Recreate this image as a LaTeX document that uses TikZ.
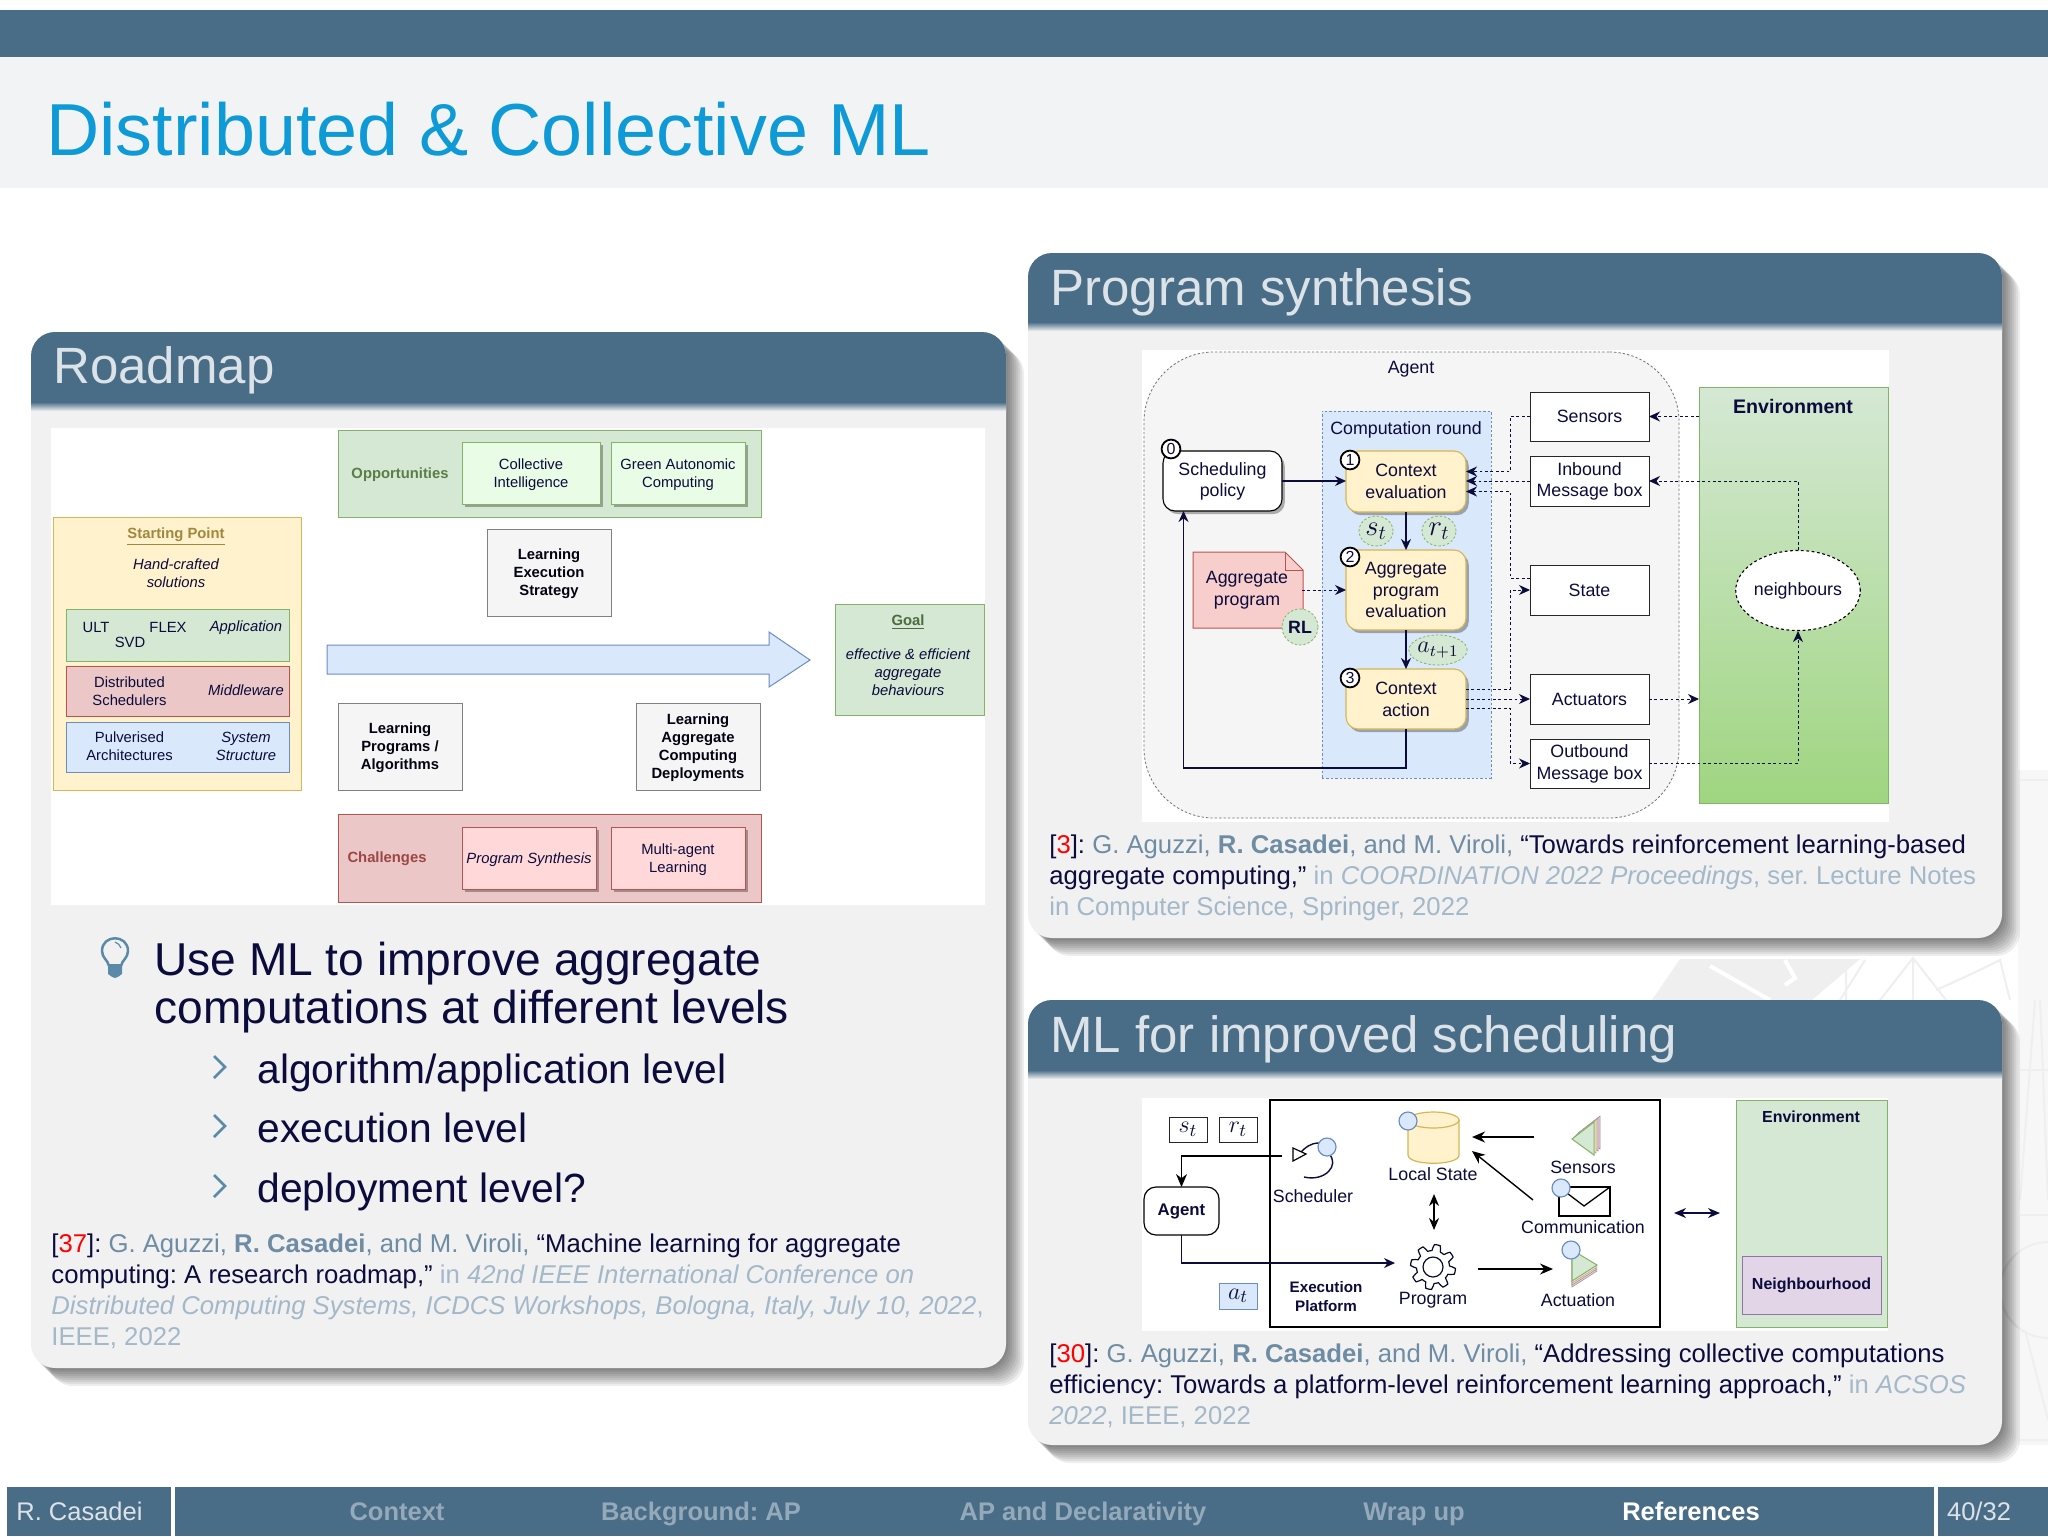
\documentclass[tikz,border=0pt]{standalone}
\usepackage{fontspec}
\setmainfont{Liberation Sans}
\usetikzlibrary{arrows.meta,shadows,shapes.geometric}
\AtBeginDocument{\frenchspacing}
\definecolor{bar}{HTML}{4A6D87}
\definecolor{band}{HTML}{F1F3F5}
\definecolor{cardbg}{HTML}{F1F1F2}
\definecolor{titleblue}{HTML}{0E9AD6}
\definecolor{navy}{HTML}{0B0B3C}
\definecolor{headtxt}{HTML}{DCE3E8}
\definecolor{auth}{HTML}{6E8CA3}
\definecolor{pub}{HTML}{A3B8C8}
\definecolor{foot}{HTML}{94A9B9}
\definecolor{bull}{HTML}{5B8AA8}
\definecolor{gfill}{HTML}{D5E8D4}
\definecolor{gbot}{HTML}{9FD580}
\definecolor{gline}{HTML}{82B366}
\definecolor{glight}{HTML}{E8FCE6}
\definecolor{rfill}{HTML}{EBC7C7}
\definecolor{rline}{HTML}{B85450}
\definecolor{rlight}{HTML}{FFD9D9}
\definecolor{pfill}{HTML}{F8CECC}
\definecolor{bfill}{HTML}{DAE8FC}
\definecolor{bline}{HTML}{6C8EBF}
\definecolor{yfill}{HTML}{FFF2CC}
\definecolor{yline}{HTML}{D6B656}
\definecolor{lgfill}{HTML}{F5F5F5}
\definecolor{lgline}{HTML}{808080}
\definecolor{vfill}{HTML}{E1D5E7}
\definecolor{vline}{HTML}{9673A6}
\definecolor{wm}{HTML}{EFEFEF}
\newcommand{\bx}[7]{%
  \pgfmathsetmacro\bxw{(#5-#3)*0.5}\pgfmathsetmacro\bxh{(#6-#4)*0.5}%
  \pgfmathsetmacro\bxx{(#3+#5)/2}\pgfmathsetmacro\bxy{(#4+#6)/2}%
  \node[#2,minimum width=\bxw pt,minimum height=\bxh pt] (#1) at (\bxx,\bxy) {#7};}
\newcommand{\fsz}[2]{\fontsize{#1}{#2}\selectfont}
\newcommand{\ts}{\rule{0pt}{6.9pt}}
\newcommand{\card}[7]{% x0 y0 x1 y1 headbottom titlerise title
  \foreach \s in {2,4,...,18}{\fill[black,opacity=.065,rounded corners=12pt]
    ({#1+\s},{#2+\s}) rectangle ({#3+\s},{#4+\s});}
  \fill[cardbg,rounded corners=12pt] (#1,#2) rectangle (#3,#4);
  \fill[bar,rounded corners=12pt] (#1,#5) -- (#1,#2) -- (#3,#2) -- (#3,#5);
  \shade[top color=bar,bottom color=cardbg] (#1,#5) rectangle (#3,{#5+9});
  \node[anchor=base west,text=headtxt,inner sep=0pt,font=\fsz{25.5}{28}] (#7) at ({#1+22},{#5-#6}) {\cardtitle};}
\tikzset{
  txt/.style={inner sep=0pt,outer sep=0pt,align=center,text=navy},
  rm/.style={txt,font=\fsz{7.4}{9}},
  rmb/.style={txt,font=\fsz{7.4}{9}\bfseries},
  rmi/.style={txt,font=\fsz{7.4}{9}\itshape},
  box/.style={txt,draw,line width=.5pt},
  soft/.style={drop shadow={shadow xshift=1.4pt,shadow yshift=-1.6pt,fill=black,opacity=.3}},
  gbox/.style={box,fill=gfill,draw=gline},
  rbox/.style={box,fill=rfill,draw=rline},
  bbox/.style={box,fill=bfill,draw=bline},
  lbox/.style={box,fill=lgfill,draw=lgline,font=\fsz{7.4}{9}\bfseries,text=black!70!navy},
  gsub/.style={box,fill=glight,draw=gline,soft,font=\fsz{7.4}{9}},
  rsub/.style={box,fill=rlight,draw=rline,soft,font=\fsz{7.4}{9}},
  sy/.style={txt,font=\fsz{8.9}{10.9}},
  sybox/.style={box,font=\fsz{8.9}{10.9},draw=black!85,line width=.5pt,fill=white},
  roundb/.style={box,rounded corners=6pt,font=\fsz{8.9}{10.9},soft,line width=.55pt},
  badge/.style={circle,draw=black,fill=white,line width=.9pt,inner sep=0pt,minimum size=9.4pt,text=navy,font=\fsz{8}{8}},
  gell/.style={ellipse,fill=gfill,draw=gline,dash pattern=on 1.2pt off 1pt,line width=.4pt,inner sep=0pt,text=navy},
  solidc/.style={navy,line width=.6pt,-{Stealth[length=5.5pt,width=5pt]}},
  plainc/.style={black,line width=.7pt,-{Stealth[length=6.5pt,width=5.5pt]}},
  dotc/.style={navy,line width=.5pt,dash pattern=on 1.4pt off 1.3pt,-{Stealth[length=5.5pt,width=5pt]}},
  ft/.style={anchor=base,inner sep=0pt,font=\fsz{12.75}{14}\bfseries,text=foot},
  cite/.style={anchor=north west,inner sep=0pt,align=left,text=navy,font=\fsz{12.85}{15.55}},
  knob/.style={fill=bfill,draw=bline,line width=.6pt},
  iconl/.style={txt,font=\fsz{8.9}{10}},
}
\newcommand{\au}[1]{\textcolor{auth}{#1}}
\newcommand{\pb}[1]{\textcolor{pub}{#1}}
\begin{document}
\begin{tikzpicture}[x=0.5pt,y=-0.5pt]
\useasboundingbox (0,0) rectangle (2048,1536);
\fill[white] (0,0) rectangle (2048,1536);
% watermark
\begin{scope}[wm,line width=1pt]
\fill[wm,opacity=.45] (2018,770) rectangle (2048,1445);
\fill[wm] (1652,1000) -- (1680,959) -- (1860,959) -- (1812,1000) -- cycle;
\draw[white,line width=2pt] (1710,966) -- (1770,1000) (1785,960) -- (1795,978) -- (1785,985);
\draw (1880,1000) -- (1913,958) -- (1946,1000) (1913,958) -- (1913,1000);
\draw (1840,1000) -- (1865,960) (1846,960) -- (1846,1000);
\draw (1936,990) .. controls (1970,975) and (1990,965) .. (2000,960) -- (2010,1000);
\draw (2020,780) -- (2048,780) (2020,1070) -- (2048,1070) (2020,1215) -- (2048,1215);
\draw (2035,1000) -- (2020,1200) (2040,1000) -- (2048,1200);
\draw (2048,1290) circle[radius=24pt];
\draw (2020,1440) -- (2048,1440) (2025,1330) -- (2048,1420);
\end{scope}
% top
\fill[bar] (0,10) rectangle (2048,57);
\fill[band] (0,57) rectangle (2048,188);
\node[anchor=base west,inner sep=0pt,text=titleblue,font=\fsz{36.85}{40}] (maintitle) at (46,155.5) {Distributed \& Collective ML};
% cards
\def\cardtitle{Roadmap}\card{31}{332}{1006}{1368}{402}{19}{roadt}
\def\cardtitle{Program synthesis}\card{1028}{253}{2002}{938}{322}{17}{progt}
\def\cardtitle{ML for improved scheduling}\card{1028}{1000}{2002}{1445}{1070}{18}{mlt}
% ---------- roadmap figure
\fill[white] (51,428) rectangle (985,905);
\bx{opp}{gbox}{338}{430}{761}{517}{}
\node[rmb,text=gline!70!black] (opplab) at (400,474.5) {Opportunities};
\bx{ci}{gsub}{462}{442}{600}{504}{\ts Collective\\Intelligence}
\bx{gac}{gsub}{611}{442}{745}{504}{\ts Green Autonomic\\Computing}
\bx{les}{lbox}{487}{529}{611}{616}{\ts Learning\\Execution\\Strategy}
\bx{start}{box,fill=yfill,draw=yline}{53}{517}{301}{790}{}
\node[rmb,text=yline!75!black] (splab) at (176,536.5) {\underline{Starting Point}};
\node[rmi] (hand) at (176,573.5) {Hand-crafted\\solutions};
\bx{lapp}{gbox}{66}{609}{289}{661}{}
\node[rm] (ult) at (96,627.5) {ULT};
\node[rm] (flex) at (168,627.5) {FLEX};
\node[rm] (svd) at (130,642) {SVD};
\node[rmi] (app) at (246,628) {Application};
\bx{lmid}{rbox}{66}{666}{289}{716}{}
\node[rm] (sched) at (129.5,691) {Distributed\\Schedulers};
\node[rmi] (mid) at (246,690) {Middleware};
\bx{lsys}{bbox}{66}{722}{289}{772}{}
\node[rm] (pulv) at (129.5,746.5) {Pulverised\\Architectures};
\node[rmi] (sys) at (246,746.5) {System\\Structure};
\fill[bfill,draw=bline,line width=.5pt] (327,645) -- (769,645) -- (769,632) -- (810,660) -- (769,687) -- (769,674) -- (327,674) -- cycle;
\bx{goal}{gbox}{835}{604}{984}{715}{}
\node[rmb,text=gline!60!black] (goallab) at (908,622.5) {\underline{Goal}};
\node[rmi] (goaltxt) at (908,672) {effective \& efficient\\aggregate\\behaviours};
\bx{lpa}{lbox}{338}{703}{462}{790}{\ts Learning\\Programs /\\Algorithms}
\bx{lacd}{lbox}{636}{703}{760}{790}{\ts Learning\\Aggregate\\Computing\\Deployments}
\bx{chal}{rbox}{338}{814}{761}{902}{}
\node[rmb,text=rline!85!black] (challab) at (387,859) {Challenges};
\bx{ps}{rsub}{462}{827}{596}{889}{\itshape\ts Program Synthesis}
\bx{mal}{rsub}{611}{827}{745}{889}{\ts Multi-agent\\Learning}
% bullets
\draw[bull,line width=1.25pt,line join=round] (109,966) .. controls (108,960) and (102,958) .. (102,951) .. controls (102,934) and (128,934) .. (128,951) .. controls (128,958) and (122,960) .. (121,966);
\fill[bull] (108,964) -- (122,964) -- (122,974) .. controls (120,975) and (119,977) .. (115,978) .. controls (111,977) and (110,975) .. (108,974) -- cycle;
\draw[bull,line width=.6pt] (115,942) .. controls (118,943) and (120,945) .. (121,948);
\node[anchor=north west,inner sep=0pt,align=left,text=navy,font=\fsz{23.05}{24}] (b1) at (154,942) {Use ML to improve aggregate\\computations at different levels};
\foreach \yy/\nn/\ttxt in {1083/s1/algorithm\slash application level,1142/s2/execution level,1202/s3/deployment level?}{
  \node[anchor=base west,inner sep=0pt,text=navy,font=\fsz{20.4}{22}] (\nn) at (257,\yy) {\ttxt};
  \draw[bull,line width=1.3pt] (214,{\yy-27}) -- (225,{\yy-16}) -- (214,{\yy-5});
}
\node[cite] (c1) at (51,1233) {[\textcolor{red}{37}]: \au{G. Aguzzi, \textbf{R. Casadei}, and M. Viroli,} “Machine learning for aggregate\\computing: A research roadmap,” \pb{in \textit{42nd IEEE International Conference on}}\\\pb{\textit{Distributed Computing Systems, ICDCS Workshops, Bologna, Italy, July 10, 2022},}\\\pb{IEEE, 2022}};
% ---------- program synthesis figure
\fill[white] (1142,350) rectangle (1889,822);
\bx{agentb}{txt,draw=black!55,fill=lgfill,dash pattern=on 1.2pt off 1pt,line width=.4pt,rounded corners=35pt}{1144}{352}{1679}{818}{}
\node[sy] (agentl) at (1411,369.5) {Agent};
\bx{env}{txt,draw=gline,top color=gfill,bottom color=gbot,line width=.5pt}{1699}{387}{1888}{803}{}
\node[txt,font=\fsz{9.8}{12}\bfseries] (envl) at (1793,406) {Environment};
\bx{comp}{txt,draw=bline,fill=bfill,dash pattern=on 1.2pt off 1pt,line width=.4pt}{1322}{411}{1491}{778}{}
\node[sy] (compl) at (1406,429.5) {Computation round};
\bx{sp}{roundb,fill=white,draw=black}{1163}{451}{1282}{511}{\ts Scheduling\\policy}
\bx{ce}{roundb,fill=yfill,draw=yline}{1346}{451}{1466}{512}{Context\\evaluation}
\bx{ape}{roundb,fill=yfill,draw=yline}{1346}{550}{1466}{630}{Aggregate\\program\\evaluation}
\bx{ca}{roundb,fill=yfill,draw=yline}{1346}{669}{1466}{729}{Context\\action}
\node[badge] (n0) at (1171,449) {0};
\node[badge] (n1) at (1350,460) {1};
\node[badge] (n2) at (1350,557) {2};
\node[badge] (n3) at (1350,678) {3};
\node[gell,minimum width=17pt,minimum height=15pt] (st) at (1376,531) {\fsz{14}{14}$s_t$};
\node[gell,minimum width=17pt,minimum height=15pt] (rt) at (1439,531) {\fsz{14}{14}$r_t$};
\node[gell,minimum width=28pt,minimum height=15pt] (at1) at (1438,650) {\fsz{12}{12}$a_{t+1}$};
\fill[pfill,draw=rline,line width=.5pt] (1193,552) -- (1285,552) -- (1303,570) -- (1303,628) -- (1193,628) -- cycle;
\draw[rline,line width=.5pt] (1285,552) -- (1285,570) -- (1303,570);
\bx{apd}{sy}{1192}{552}{1302}{628}{Aggregate\\program}
\node[gell,minimum width=18pt,minimum height=18pt,font=\fsz{8.9}{11}\bfseries] (rl) at (1300,627) {RL};
\bx{sens}{sybox}{1530}{392}{1649}{441}{Sensors}
\bx{inb}{sybox}{1530}{456}{1649}{506}{\ts Inbound\\Message box}
\bx{state}{sybox}{1530}{565}{1649}{615}{State}
\bx{act}{sybox}{1530}{674}{1649}{724}{Actuators}
\bx{outb}{sybox}{1530}{739}{1649}{788}{\ts Outbound\\Message box}
\node[ellipse,draw=black,fill=white,dash pattern=on 1.4pt off 1.3pt,line width=.55pt,inner sep=0pt,minimum width=60pt,minimum height=40pt,text=navy,font=\fsz{8.9}{11}] (nb) at (1798,590.5) {neighbours};
\coordinate (bus) at (1510,500);
\coordinate (ceA) at ([yshift=5pt]ce.east);
\coordinate (ceC) at ([yshift=-5pt]ce.east);
\coordinate (stA) at ([yshift=6pt]state.west);
\coordinate (caA) at ([yshift=5pt]ca.east);
\coordinate (caC) at ([yshift=-4.5pt]ca.east);
\draw[solidc] (sp.east) -- (sp.east -| ce.west);
\draw[solidc] (ce.south) -- (ape.north);
\draw[solidc] (ape.south) -- (ca.north);
\draw[solidc] (ca.south) -- ++(0,39) -| ([xshift=-19.5pt]sp.south);
\draw[dotc] (apd.east) -- (ape.west);
\draw[dotc] (sens.west) -| (bus |- ceA) -- (ceA);
\draw[dotc] (inb.west) -- (inb.west -| ce.east);
\draw[dotc] (stA) -| (bus |- ceC) -- (ceC);
\draw[dotc] (caA) -| (bus |- state.west) -- (state.west);
\draw[dotc] (ca.east) -- (ca.east -| act.west);
\draw[dotc] (caC) -| (bus |- outb.west) -- (outb.west);
\draw[dotc] (act.east) -- (act.east -| env.west);
\draw[dotc] (sens.east -| env.west) -- (sens.east);
\draw[dotc] (nb.north) |- (inb.east);
\draw[dotc] (outb.east) -| (nb.south);
\node[cite] (c2) at (1049,834) {[\textcolor{red}{3}]: \au{G. Aguzzi, \textbf{R. Casadei}, and M. Viroli,} “Towards reinforcement learning-based\\aggregate computing,” \pb{in \textit{COORDINATION 2022 Proceedings}, ser. Lecture Notes}\\\pb{in Computer Science, Springer, 2022}};
% ---------- scheduling figure
\fill[white] (1142,1098) rectangle (1888,1331);
\bx{plat}{box,fill=white,draw=black,line width=.65pt}{1270}{1100}{1660}{1327}{}
\bx{stb}{sybox}{1169}{1117}{1207}{1142}{\fsz{13}{13}$s_t$}
\bx{rtb}{sybox}{1219}{1117}{1257}{1142}{\fsz{13}{13}$r_t$}
\bx{atb}{bbox}{1219}{1283}{1257}{1309}{\fsz{13}{13}$a_t$}
\bx{agentn}{box,rounded corners=6pt,fill=white,draw=black,line width=.6pt,font=\fsz{8.4}{10}\bfseries}{1144}{1187}{1219}{1235}{Agent}
\bx{envb}{gbox}{1736}{1100}{1887}{1327}{}
\node[txt,font=\fsz{8}{10}\bfseries] (envl2) at (1811,1117) {Environment};
\bx{nbh}{box,fill=vfill,draw=vline,font=\fsz{8}{10}\bfseries}{1742}{1256}{1881}{1314}{Neighbourhood}
% scheduler icon
\draw[navy,line width=.7pt] (1304,1177) .. controls (1325,1182) and (1340,1165) .. (1329,1154);
\draw[navy,line width=.7pt] (1319,1143) .. controls (1310,1143) and (1305,1148) .. (1301,1152);
\fill[white,draw=black,line width=.6pt] (1293,1148) -- (1306,1154) -- (1293,1161) -- cycle;
\fill[knob] (1327,1147) circle[radius=4.5pt];
\node[iconl] (schedl) at (1313,1196) {Scheduler};
\coordinate (schedc) at (1282,1156);
% local state
\fill[yfill,draw=yline,line width=.6pt] (1408,1120) -- (1408,1155) .. controls (1408,1166) and (1459,1166) .. (1459,1155) -- (1459,1120) -- cycle;
\draw[yline,line width=.6pt,fill=yfill] (1433.5,1120) ellipse[x radius=12.75pt,y radius=4pt];
\fill[knob] (1408,1121) circle[radius=4.5pt];
\node[iconl] (locall) at (1433,1174) {Local State};
\coordinate (localA) at (1472,1137);
\coordinate (localB) at (1472,1151);
\coordinate (localC) at (1434,1194);
% sensors icon
\foreach \dd/\cc in {6/vfill,4/pfill,2/yfill}{
  \fill[\cc,draw=\cc!70!black,line width=.3pt] ({1572+\dd},{1139-\dd}) -- ({1594+\dd},{1155-\dd}) -- ({1594+\dd},{1122-\dd}) -- cycle;}
\fill[gfill,draw=gline,line width=.5pt] (1572,1139) -- (1594,1155) -- (1594,1122) -- cycle;
\node[iconl] (sensl) at (1583,1167) {Sensors};
\coordinate (sensc) at (1534,1137);
% envelope
\fill[white,draw=black,line width=.65pt] (1559,1187) rectangle (1610,1216);
\draw[black,line width=.65pt] (1559,1187) -- (1584,1206) -- (1610,1187);
\fill[knob] (1561,1188) circle[radius=4.5pt];
\node[iconl] (comml) at (1583,1227) {Communication};
\coordinate (commc) at (1533,1200);
% gear
\draw[navy!70!black,line width=.6pt,fill=white,line join=round] plot[samples=97,domain=0:360] ({1433+(19.5+3*max(-1,min(1,3*sin(8*\x))))*cos(\x)},{1267+(19.5+3*max(-1,min(1,3*sin(8*\x))))*sin(\x)}) -- cycle;
\node[circle,draw=navy!70!black,line width=.6pt,inner sep=0pt,minimum size=10pt] (gear) at (1433,1267) {};
\node[iconl] (progl) at (1433,1300) {Program};
\coordinate (progin) at (1395,1263);
\coordinate (progN) at (1434,1230);
\coordinate (progout) at (1478,1269);
% actuation icon
\foreach \dd/\cc in {6/vfill,4/pfill,2/yfill}{
  \fill[\cc,draw=\cc!70!black,line width=.3pt] ({1572},{1255+\dd}) -- ({1597},{1265+\dd}) -- ({1572},{1281+\dd}) -- cycle;}
\fill[gfill,draw=gline,line width=.5pt] (1572,1250) -- (1597,1265) -- (1572,1281) -- cycle;
\fill[knob] (1571,1250) circle[radius=4.5pt];
\node[iconl] (actl) at (1578,1300) {Actuation};
\coordinate (actin) at (1553,1269);
\node[txt,font=\fsz{7.6}{9.5}\bfseries] (execl) at (1326,1296.5) {Execution\\Platform};
\coordinate (dbL) at (1674,1213);
\coordinate (dbR) at (1720,1213);
\draw[plainc] (schedc) -| (agentn.north);
\draw[solidc] (agentn.south) |- (progin);
\draw[plainc] (sensc) -- (localA);
\draw[plainc] (commc) -- (localB);
\draw[plainc,{Stealth[length=6pt,width=5pt]}-{Stealth[length=6pt,width=5pt]}] (localC) -- (progN);
\draw[plainc] (progout) -- (actin);
\draw[solidc,{Stealth[length=6pt,width=5pt]}-{Stealth[length=6pt,width=5pt]}] (dbL) -- (dbR);
\node[cite] (c3) at (1049,1343) {[\textcolor{red}{30}]: \au{G. Aguzzi, \textbf{R. Casadei}, and M. Viroli,} “Addressing collective computations\\efficiency: Towards a platform-level reinforcement learning approach,” \pb{in \textit{ACSOS}}\\\pb{\textit{2022}, IEEE, 2022}};
% footer
\fill[bar] (7,1487) rectangle (171,1536);
\fill[bar] (175,1487) rectangle (1934,1536);
\fill[bar] (1938,1487) rectangle (2048,1536);
\node[anchor=base west,inner sep=0pt,text=headtxt,font=\fsz{12.75}{14}] (fa) at (16,1520) {R. Casadei};
\node[ft] (f1) at (397,1520) {Context};
\node[ft] (f2) at (701,1520) {Background: AP};
\node[ft] (f3) at (1083,1520) {AP and Declarativity};
\node[ft] (f4) at (1414,1520) {Wrap up};
\node[ft,text=white] (f5) at (1691,1520) {References};
\node[anchor=base,inner sep=0pt,text=headtxt,font=\fsz{12.75}{14}] (fp) at (1979,1520) {40/32};
\end{tikzpicture}
\end{document}
